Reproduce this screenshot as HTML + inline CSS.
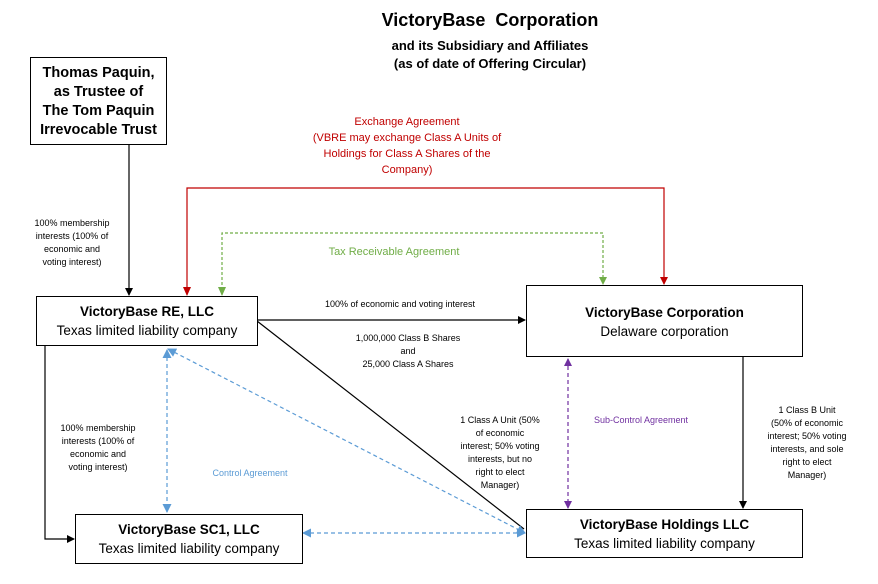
<!DOCTYPE html>
<html><head><style>
html,body{margin:0;padding:0;background:#fff;}
body{width:878px;height:584px;position:relative;overflow:hidden;font-family:"Liberation Sans",sans-serif;}
.t{position:absolute;text-align:center;white-space:nowrap;}
.box{position:absolute;border:1.3px solid #000;box-sizing:border-box;background:#fff;text-align:center;}
</style></head><body>
<svg width="878" height="584" style="position:absolute;left:0;top:0">
<defs>
<marker id="ab" markerWidth="8" markerHeight="8" refX="7" refY="4" orient="auto" markerUnits="userSpaceOnUse"><path d="M0,0L8,4L0,8z" fill="#000"/></marker>
<marker id="ar" markerWidth="8" markerHeight="8" refX="7" refY="4" orient="auto" markerUnits="userSpaceOnUse"><path d="M0,0L8,4L0,8z" fill="#c00000"/></marker>
<marker id="ag" markerWidth="8" markerHeight="8" refX="7" refY="4" orient="auto" markerUnits="userSpaceOnUse"><path d="M0,0L8,4L0,8z" fill="#70ad47"/></marker>
<marker id="ap" markerWidth="8" markerHeight="8" refX="7" refY="4" orient="auto-start-reverse" markerUnits="userSpaceOnUse"><path d="M0,0L8,4L0,8z" fill="#7030a0"/></marker>
<marker id="au" markerWidth="9" markerHeight="9" refX="8" refY="4.5" orient="auto-start-reverse" markerUnits="userSpaceOnUse"><path d="M0,0L9,4.5L0,9z" fill="#5b9bd5"/></marker>
</defs>
<g fill="none" stroke-width="1.2">
<line x1="129" y1="144" x2="129" y2="295" stroke="#000" marker-end="url(#ab)"/>
<polyline points="187,295 187,188 664,188 664,284" stroke="#c00000" marker-end="url(#ar)"/>
<polyline points="222,295 222,233 603,233 603,284" stroke="#70ad47" stroke-dasharray="3,2" marker-end="url(#ag)"/>
<line x1="257" y1="320" x2="525" y2="320" stroke="#000" marker-end="url(#ab)"/>
<line x1="257" y1="321" x2="524" y2="529" stroke="#000"/>
<polyline points="45,345 45,539 74,539" stroke="#000" marker-end="url(#ab)"/>
<line x1="743" y1="356" x2="743" y2="508" stroke="#000" marker-end="url(#ab)"/>
<line x1="568" y1="359" x2="568" y2="508" stroke="#7030a0" stroke-dasharray="4,3" marker-start="url(#ap)" marker-end="url(#ap)"/>
<line x1="167" y1="350" x2="167" y2="512" stroke="#5b9bd5" stroke-dasharray="4,3" marker-start="url(#au)" marker-end="url(#au)"/>
<line x1="168" y1="349" x2="525" y2="533" stroke="#5b9bd5" stroke-dasharray="4,3" marker-start="url(#au)" marker-end="url(#au)"/>
<line x1="303" y1="533" x2="525" y2="533" stroke="#5b9bd5" stroke-dasharray="4,3" marker-start="url(#au)" marker-end="url(#au)"/>
</g>
<path d="M183,287L187,296L191,287z" fill="#c00000"/>
<path d="M218,287L222,296L226,287z" fill="#70ad47"/>
</svg>
<div class="t" style="left:340px;top:10px;width:300px;font-size:18px;font-weight:bold;">VictoryBase&nbsp; Corporation</div>
<div class="t" style="left:340px;top:37px;width:300px;font-size:13px;font-weight:bold;line-height:18px;">and its Subsidiary and Affiliates<br>(as of date of Offering Circular)</div>
<div class="box" style="left:30px;top:57px;width:137px;height:88px;font-size:14.5px;font-weight:bold;line-height:19px;padding-top:6px;">Thomas Paquin,<br>as Trustee of<br>The Tom Paquin<br>Irrevocable Trust</div>
<div class="t" style="left:257px;top:114px;width:300px;font-size:11px;line-height:16px;color:#c00000;">Exchange Agreement<br>(VBRE may exchange Class A Units of<br>Holdings for Class A Shares of the<br>Company)</div>
<div class="t" style="left:294px;top:246px;width:200px;font-size:11px;color:#70ad47;">Tax Receivable Agreement</div>
<div class="t" style="left:12px;top:217px;width:120px;font-size:9px;line-height:13px;">100% membership<br>interests (100% of<br>economic and<br>voting interest)</div>
<div class="box" style="left:36px;top:296px;width:222px;height:50px;padding-top:5px;"><div style="font-size:13.5px;font-weight:bold;line-height:19px;">VictoryBase RE, LLC</div><div style="font-size:13.5px;line-height:19px;">Texas limited liability company</div></div>
<div class="box" style="left:526px;top:285px;width:277px;height:72px;padding-top:17px;"><div style="font-size:13.5px;font-weight:bold;line-height:19px;">VictoryBase Corporation</div><div style="font-size:13.5px;line-height:19px;">Delaware corporation</div></div>
<div class="box" style="left:75px;top:514px;width:228px;height:50px;padding-top:5px;"><div style="font-size:13.5px;font-weight:bold;line-height:19px;">VictoryBase SC1, LLC</div><div style="font-size:13.5px;line-height:19px;">Texas limited liability company</div></div>
<div class="box" style="left:526px;top:509px;width:277px;height:49px;padding-top:5px;"><div style="font-size:13.5px;font-weight:bold;line-height:19px;">VictoryBase Holdings LLC</div><div style="font-size:13.5px;line-height:19px;">Texas limited liability company</div></div>
<div class="t" style="left:300px;top:299px;width:200px;font-size:9px;">100% of economic and voting interest</div>
<div class="t" style="left:308px;top:332px;width:200px;font-size:9px;line-height:13px;">1,000,000 Class B Shares<br>and<br>25,000 Class A Shares</div>
<div class="t" style="left:28px;top:422px;width:140px;font-size:9px;line-height:13px;">100% membership<br>interests (100% of<br>economic and<br>voting interest)</div>
<div class="t" style="left:190px;top:468px;width:120px;font-size:9px;color:#5b9bd5;">Control Agreement</div>
<div class="t" style="left:440px;top:414px;width:120px;font-size:9px;line-height:13px;">1 Class A Unit (50%<br>of economic<br>interest; 50% voting<br>interests, but no<br>right to elect<br>Manager)</div>
<div class="t" style="left:581px;top:415px;width:120px;font-size:9px;color:#7030a0;">Sub-Control Agreement</div>
<div class="t" style="left:747px;top:404px;width:120px;font-size:9px;line-height:13px;">1 Class B Unit<br>(50% of economic<br>interest; 50% voting<br>interests, and sole<br>right to elect<br>Manager)</div>
</body></html>
